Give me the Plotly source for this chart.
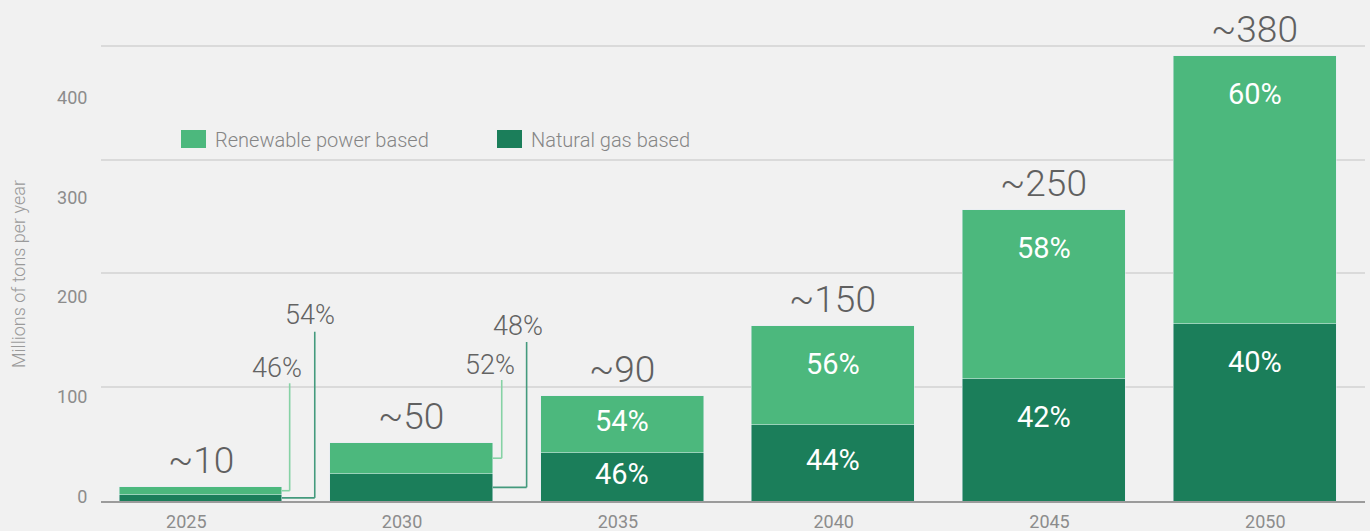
import plotly.graph_objects as go

# ---------------- data ----------------
years = ["2025", "2030", "2035", "2040", "2045", "2050"]
natural_gas = [5.5, 24.0, 42.4, 67.0, 107.4, 155.6]        # Mt/yr (dark segment)
renewable = [7.1, 27.2, 50.1, 86.9, 148.3, 235.4]         # Mt/yr (light segment)
renewable_pct = ["46%", "52%", "54%", "56%", "58%", "60%"]
gas_pct = ["54%", "48%", "46%", "44%", "42%", "40%"]
total_labels = ["~10", "~50", "~90", "~150", "~250", "~380"]
y_tick_values = [0, 100, 200, 300, 400]
series_names = ["Renewable power based", "Natural gas based"]

# ---------------- style ----------------
W, H = 1370, 531
ML, MR, MT, MB = 101, 5, 20, 30
PW, PH = W - ML - MR, H - MT - MB
LIGHT = "#4cb87d"
DARK = "#1b7e5a"
LIGHT_LINE = "#86d2a5"
DARK_LINE = "#449a7d"
BG = "#f1f1f1"
FONT = "Roboto"

PX_PER_UNIT = 1.13825
Y_MAX = PH / PX_PER_UNIT
BAR_W = 0.773
X_RANGE = [-0.472, 5.524]
X2_RANGE = [-0.3953, 5.462]
Y2_RANGE = [-4.31, 477.7]


def u(px):
    """pixel distance -> y data units"""
    return px / PX_PER_UNIT


def paper_x(px):
    return (px - ML) / PW


def paper_y(py):
    return (H - MB - py) / PH


totals = [g + r for g, r in zip(natural_gas, renewable)]

fig = go.Figure()
fig.add_trace(go.Bar(x=years, y=natural_gas, name=series_names[1], marker_color=DARK,
                     width=BAR_W, showlegend=False, hoverinfo="skip"))
fig.add_trace(go.Bar(x=years, y=renewable, name=series_names[0], marker_color=LIGHT,
                     width=BAR_W, showlegend=False, hoverinfo="skip"))
# helper trace so the overlaid label axes render
fig.add_trace(go.Scatter(x=years, y=y_tick_values + [0], xaxis="x2", yaxis="y2",
                         mode="none", showlegend=False, hoverinfo="skip"))

annotations = []
shapes = []

# total labels above bars
for i, (yr, t, lab) in enumerate(zip(years, totals, total_labels)):
    annotations.append(dict(x=i, y=t, xref="x", yref="y", text=lab, showarrow=False,
                            yanchor="middle", yshift=26,
                            font=dict(family=FONT, size=37, color="#606060", weight=300)))

# inside percentage labels (bars tall enough)
for i in range(2, len(years)):
    g, r = natural_gas[i], renewable[i]
    top_l, top_g = g + r, g
    y_l = max(g + r / 2 + u(3), top_l - u(38))
    y_g = max(g / 2 + u(3), top_g - u(38))
    for yy, txt in ((y_l, renewable_pct[i]), (y_g, gas_pct[i])):
        annotations.append(dict(x=i, y=yy, xref="x", yref="y", text=txt, showarrow=False,
                                yanchor="middle",
                                font=dict(family=FONT, size=29, color="white")))

# leader lines for the small bars
leaders = [
    dict(i=0, s="ren", elbow=0.423, top=103.4, lx=0.365, ly=116.6),
    dict(i=0, s="gas", elbow=0.542, top=148.7, lx=0.519, ly=163.1),
    dict(i=1, s="ren", elbow=0.429, top=106.3, lx=0.373, ly=119.5),
    dict(i=1, s="gas", elbow=0.547, top=139.7, lx=0.505, ly=153.5),
]
for ld in leaders:
    i = ld["i"]
    if ld["s"] == "ren":
        y0 = natural_gas[i] + renewable[i] / 2
        col, txt = LIGHT_LINE, renewable_pct[i]
    else:
        y0 = natural_gas[i] / 2
        col, txt = DARK_LINE, gas_pct[i]
    x_edge = i + BAR_W / 2
    x_el = i + ld["elbow"]
    shapes.append(dict(type="line", xref="x", yref="y", x0=x_edge, x1=x_el, y0=y0, y1=y0,
                       line=dict(color=col, width=1.6)))
    shapes.append(dict(type="line", xref="x", yref="y", x0=x_el, x1=x_el, y0=y0, y1=ld["top"],
                       line=dict(color=col, width=1.6)))
    annotations.append(dict(x=i + ld["lx"], y=ld["ly"], xref="x", yref="y", text=txt,
                            showarrow=False, yanchor="middle",
                            font=dict(family=FONT, size=27, color="#636363", weight=300)))

# custom legend
legend_items = [(series_names[0], LIGHT, 181), (series_names[1], DARK, 497)]
for name, col, px in legend_items:
    shapes.append(dict(type="rect", xref="paper", yref="paper",
                       x0=paper_x(px), x1=paper_x(px + 25), y0=paper_y(148), y1=paper_y(130),
                       fillcolor=col, line=dict(width=0)))
    annotations.append(dict(x=paper_x(px + 32), y=paper_y(139.5), xref="paper", yref="paper",
                            text=name, showarrow=False, xanchor="left", yanchor="middle",
                            font=dict(family=FONT, size=20, color="#858585", weight=300)))

# y-axis title
annotations.append(dict(x=paper_x(18), y=paper_y(274), xref="paper", yref="paper",
                        text="Millions of tons per year", textangle=-90, showarrow=False,
                        xanchor="center", yanchor="middle",
                        font=dict(family=FONT, size=18, color="#9a9a9a", weight=300)))

fig.update_layout(
    width=W, height=H,
    margin=dict(l=ML, r=MR, t=MT, b=MB, autoexpand=False),
    paper_bgcolor=BG, plot_bgcolor=BG,
    barmode="stack",
    showlegend=False,
    font=dict(family=FONT),
    xaxis=dict(type="category", range=X_RANGE, showticklabels=False, ticks="",
               showgrid=False, showline=True, linecolor="#9b9b9b", linewidth=1.6,
               zeroline=False, automargin=False),
    yaxis=dict(range=[0, Y_MAX], dtick=100, showticklabels=False, ticks="",
               showgrid=True, gridcolor="#dadada", gridwidth=1.6, zeroline=False,
               showline=False, automargin=False),
    xaxis2=dict(type="category", overlaying="x", anchor="y", side="bottom",
                range=X2_RANGE, showgrid=False, showline=False, zeroline=False,
                ticks="outside", ticklen=4, tickcolor="rgba(0,0,0,0)", automargin=False,
                tickfont=dict(family=FONT, size=18, color="#8c8c8c")),
    yaxis2=dict(overlaying="y", anchor="x", side="left", range=Y2_RANGE,
                tickvals=y_tick_values, showgrid=False, showline=False, zeroline=False,
                ticks="outside", ticklen=9, tickcolor="rgba(0,0,0,0)", automargin=False,
                tickfont=dict(family=FONT, size=18, color="#8c8c8c")),
    annotations=annotations,
    shapes=shapes,
)

fig.write_html("out.html")
